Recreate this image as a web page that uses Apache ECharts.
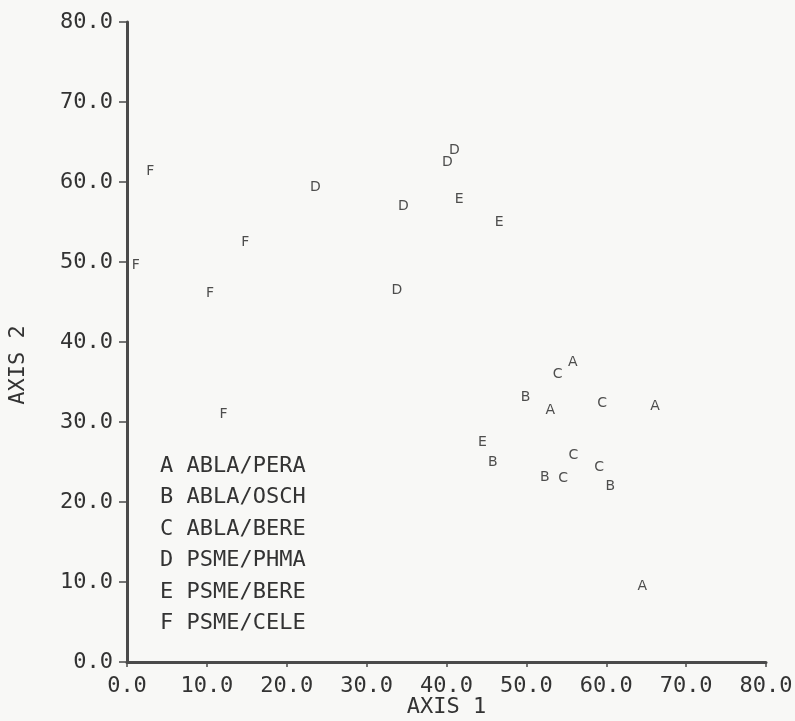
<!DOCTYPE html>
<html>
<head>
<meta charset="utf-8">
<script src="https://cdn.jsdelivr.net/npm/echarts@6/dist/echarts.min.js"></script>
<style>
  html, body { margin: 0; padding: 0; background: #f8f8f6; }
  #chart { width: 795px; height: 721px; }
</style>
</head>
<body>
<div id="chart"></div>
<script>
// ordination plot, axis 1 vs axis 2
const letters = ['A', 'B', 'C', 'D', 'E', 'F']
const groupNames = ['ABLA/PERA', 'ABLA/OSCH', 'ABLA/BERE', 'PSME/PHMA', 'PSME/BERE', 'PSME/CELE']

const groupA = [[55.8, 37.4], [53.0, 31.5], [66.1, 32.0], [64.5, 9.5]]
const groupB = [[49.9, 33.1], [45.8, 25.0], [52.3, 23.1], [60.5, 22.0]]
const groupC = [[53.9, 35.9], [59.5, 32.3], [55.9, 25.8], [59.1, 24.3], [54.6, 22.9]]
const groupD = [[23.6, 59.3], [34.6, 56.9], [40.1, 62.5], [41.0, 63.9], [33.8, 46.4]]
const groupE = [[41.6, 57.8], [46.6, 55.0], [44.5, 27.4]]
const groupF = [[2.9, 61.3], [14.8, 52.5], [1.1, 49.6], [10.4, 46.1], [12.1, 30.9]]

const groups = [groupA, groupB, groupC, groupD, groupE, groupF]

const axisTicks = { min: 0, max: 80, interval: 10 }

const ink = '#333333'
const plotFont = 'DejaVu Sans Mono'

const chart = echarts.init(document.getElementById('chart'))

const series = groups.map((data, i) => ({
    type: 'scatter',
    name: groupNames[i],
    data: data,
    symbol: 'circle',
    symbolSize: 1,
    itemStyle: { color: 'rgba(0,0,0,0)' },
    label: {
        show: true,
        position: 'inside',
        formatter: letters[i],
        color: '#222',
        fontFamily: 'DejaVu Sans',
        fontSize: 14
    },
    emphasis: { disabled: true }
}))

const axisCommon = {
    type: 'value',
    min: axisTicks.min,
    max: axisTicks.max,
    interval: axisTicks.interval,
    splitLine: { show: false },
    axisLine: { show: true, lineStyle: { color: '#4a4a4a', width: 3 } },
    axisLabel: {
        color: ink,
        fontFamily: plotFont,
        fontSize: 22,
        formatter: v => v.toFixed(1)
    },
    nameTextStyle: { color: ink, fontFamily: plotFont, fontSize: 22 }
}

const option = {
    backgroundColor: '#f8f8f6',
    animation: false,
    grid: { left: 127, top: 22, width: 639, height: 640, outerBoundsMode: 'none', containLabel: false },
    legend: {
        orient: 'vertical',
        left: 155,
        top: 455,
        padding: 0,
        icon: 'none',
        itemWidth: 0,
        itemHeight: 14,
        itemGap: 9.5,
        selectedMode: false,
        textStyle: { color: ink, fontFamily: plotFont, fontSize: 22, padding: 0 },
        formatter: name => letters[groupNames.indexOf(name)] + ' ' + name,
        data: groupNames
    },
    xAxis: Object.assign({}, axisCommon, {
        name: 'AXIS 1',
        nameLocation: 'middle',
        nameGap: 34,
        nameMoveOverlap: false,
        axisTick: { show: true, length: 5, lineStyle: { color: '#4a4a4a', width: 1.5 } },
        axisLabel: Object.assign({}, axisCommon.axisLabel, { margin: 13 })
    }),
    yAxis: Object.assign({}, axisCommon, {
        name: 'AXIS 2',
        nameLocation: 'middle',
        nameGap: 98,
        nameTextStyle: Object.assign({}, axisCommon.nameTextStyle, { padding: [0, 46, 0, 0] }),
        axisTick: { show: true, length: 8, lineStyle: { color: '#4a4a4a', width: 1.5 } },
        axisLabel: Object.assign({}, axisCommon.axisLabel, { margin: 14 })
    }),
    series: series
}

chart.setOption(option)
</script>
</body>
</html>
